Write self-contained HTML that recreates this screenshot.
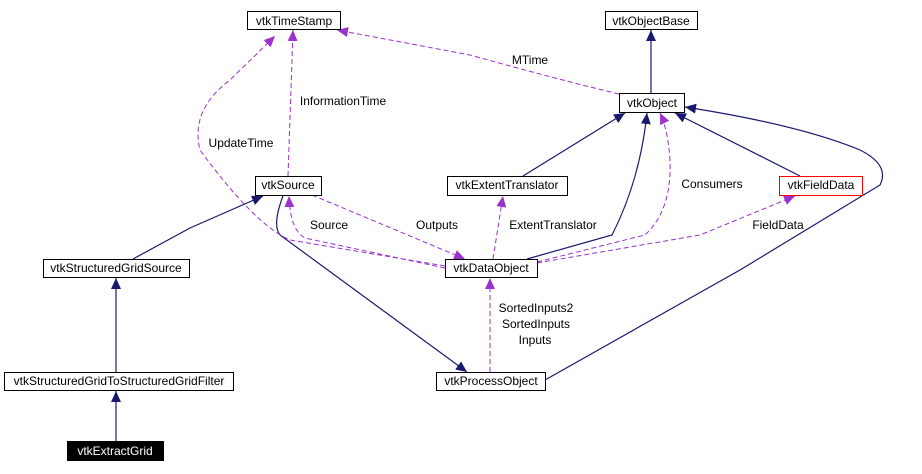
<!DOCTYPE html>
<html><head><meta charset="utf-8"><style>
html,body{margin:0;padding:0;background:#fff;}
svg{display:block;}
text{font-family:"Liberation Sans",sans-serif;font-size:12px;fill:#000;}
</style></head><body>
<svg width="922" height="474" viewBox="0 0 922 474" xmlns="http://www.w3.org/2000/svg">
<defs>
<marker id="an" markerWidth="12" markerHeight="10" refX="11" refY="5" orient="auto" markerUnits="userSpaceOnUse"><path d="M0,0 L11,5 L0,10 z" fill="#191970"/></marker>
<marker id="ap" markerWidth="12" markerHeight="10" refX="11" refY="5" orient="auto" markerUnits="userSpaceOnUse"><path d="M0,0 L11,5 L0,10 z" fill="#9a32cd"/></marker>
</defs>
<g fill="none" stroke="#191970" stroke-width="1.2">
<path d="M651,93 L651,30" marker-end="url(#an)"/>
<path d="M523,176 L625,113" marker-end="url(#an)"/>
<path d="M527,259 L612,235 Q640,180 647,113" marker-end="url(#an)"/>
<path d="M800,176 L675,113" marker-end="url(#an)"/>
<path d="M545,380 L740,270 L880,185 Q890,165 860,150 Q800,125 685,107" marker-end="url(#an)"/>
<path d="M133,259 L190,228 L263,196" marker-end="url(#an)"/>
<path d="M283,196 Q272,225 280,235 L467,372" marker-end="url(#an)"/>
<path d="M116,372 L116,278" marker-end="url(#an)"/>
<path d="M116,441 L116,391" marker-end="url(#an)"/>
</g>
<g fill="none" stroke="#9a32cd" stroke-width="1" stroke-dasharray="5,3">
<path d="M619,94 Q560,80 470,55 L337,30" marker-end="url(#ap)"/>
<path d="M288,176 L293,30" marker-end="url(#ap)"/>
<path d="M445,266 L290,240 Q255,225 200,150 Q190,110 230,80 L275,36" marker-end="url(#ap)"/>
<path d="M445,268 L305,238 Q290,230 289,196" marker-end="url(#ap)"/>
<path d="M312,195 L465,259" marker-end="url(#ap)"/>
<path d="M493,259 L503,196" marker-end="url(#ap)"/>
<path d="M537,262 L645,235 Q672,210 670,160 Q668,130 660,113" marker-end="url(#ap)"/>
<path d="M537,263 L700,235 L795,196" marker-end="url(#ap)"/>
<path d="M490,372 L490,278" marker-end="url(#ap)"/>
</g>
<g stroke="#000" stroke-width="1" fill="#fff">
<rect x="247.5" y="11.5" width="93" height="18"/>
<rect x="605.5" y="11.5" width="92" height="18"/>
<rect x="619.5" y="93.5" width="65" height="19"/>
<rect x="255.5" y="176.5" width="66" height="19"/>
<rect x="447.5" y="176.5" width="120" height="19"/>
<rect x="779.5" y="176.5" width="83" height="19" stroke="#f00"/>
<rect x="445.5" y="259.5" width="92" height="18"/>
<rect x="43.5" y="259.5" width="146" height="18"/>
<rect x="4.5" y="372.5" width="229" height="18"/>
<rect x="436.5" y="372.5" width="109" height="18"/>
<rect x="67.5" y="441.5" width="96" height="19" fill="#000"/>
</g>
<g text-anchor="middle">
<text x="294" y="25">vtkTimeStamp</text>
<text x="651" y="25">vtkObjectBase</text>
<text x="652" y="107">vtkObject</text>
<text x="288" y="189">vtkSource</text>
<text x="507" y="189">vtkExtentTranslator</text>
<text x="821" y="189">vtkFieldData</text>
<text x="491" y="272">vtkDataObject</text>
<text x="116" y="272">vtkStructuredGridSource</text>
<text x="119" y="385">vtkStructuredGridToStructuredGridFilter</text>
<text x="491" y="385">vtkProcessObject</text>
<text x="115" y="455" style="fill:#fff">vtkExtractGrid</text>
<text x="530" y="64">MTime</text>
<text x="343" y="105">InformationTime</text>
<text x="241" y="147">UpdateTime</text>
<text x="329" y="229">Source</text>
<text x="437" y="229">Outputs</text>
<text x="553" y="229">ExtentTranslator</text>
<text x="712" y="188">Consumers</text>
<text x="778" y="229">FieldData</text>
<text x="536" y="312">SortedInputs2</text>
<text x="536" y="328">SortedInputs</text>
<text x="535" y="344">Inputs</text>
</g>
</svg>
</body></html>
